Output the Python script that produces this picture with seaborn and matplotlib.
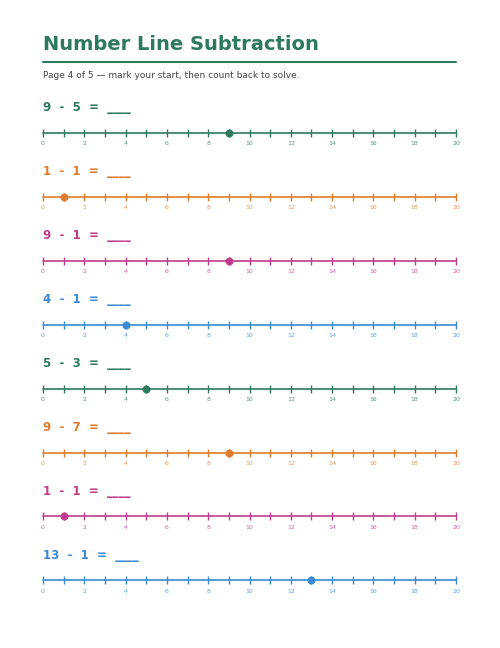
import matplotlib
matplotlib.use("Agg")
import matplotlib.pyplot as plt
import seaborn as sns
import pandas as pd

sns.set_theme(style="white")
plt.rcParams['font.family'] = ['DejaVu Sans']

title = "Number Line Subtraction"
subtitle = "Page 4 of 5 \u2014 mark your start, then count back to solve."
starts = [9, 1, 9, 4, 5, 9, 1, 13]
subtracts = [5, 1, 1, 1, 3, 7, 1, 1]
colors = ["#2e7a5c", "#e07b2e", "#c13c8e", "#3a8ad4", "#2e7a5c", "#e07b2e", "#c13c8e", "#3a8ad4"]
ticks = list(range(0, 21))
tick_labels = [str(t) if t % 2 == 0 else "" for t in ticks]

W, H = 500, 648
fig = plt.figure(figsize=(W/100, H/100), dpi=100)
fig.patch.set_facecolor("white")
def fy(y): return 1 - y / H
def fx(x): return x / W

green = "#2e7a5c"
fig.text(fx(43), fy(45), title, fontsize=14, fontweight="bold", color=green, va="center")
fig.add_artist(plt.Line2D([fx(43), fx(456)], [fy(62), fy(62)], color=green, lw=1.5))
fig.text(fx(43), fy(76), subtitle, fontsize=6.5, color="#444444", va="center")

x0, x1 = 43, 456
for i, (s, d, c) in enumerate(zip(starts, subtracts, colors)):
    ty = 108 + i * 63.9
    ly = 133 + i * 63.9
    fig.text(fx(x0), fy(ty), f"{s}  -  {d}  =  ____", fontsize=8.5, fontweight="bold", color=c, va="center")
    ax = fig.add_axes([fx(x0), fy(ly + 10), fx(x1) - fx(x0), 20 / H])
    df = pd.DataFrame({"x": [0, 20], "y": [0, 0]})
    sns.lineplot(data=df, x="x", y="y", ax=ax, color=c, lw=1.2)
    sns.scatterplot(x=[s], y=[0], ax=ax, color=c, s=28, zorder=5, marker="o", edgecolor=c)
    ax.set_xlim(0, 20)
    ax.set_ylim(-1, 1)
    for sp in ax.spines.values():
        sp.set_visible(False)
    ax.set_yticks([])
    ax.set_xlabel(""); ax.set_ylabel("")
    ax.spines['bottom'].set_position(('data', 0))
    ax.set_xticks(ticks)
    ax.set_xticklabels(tick_labels)
    ax.tick_params(axis='x', direction='inout', length=6, width=1, color=c,
                   labelcolor=c, labelsize=4.5, pad=3, bottom=True)
    for lab in ax.get_xticklabels():
        lab.set_alpha(0.8)
    for a in ax.get_children():
        try: a.set_clip_on(False)
        except Exception: pass
    ax.patch.set_alpha(0)

fig.savefig("out.png", dpi=100, facecolor="white")
